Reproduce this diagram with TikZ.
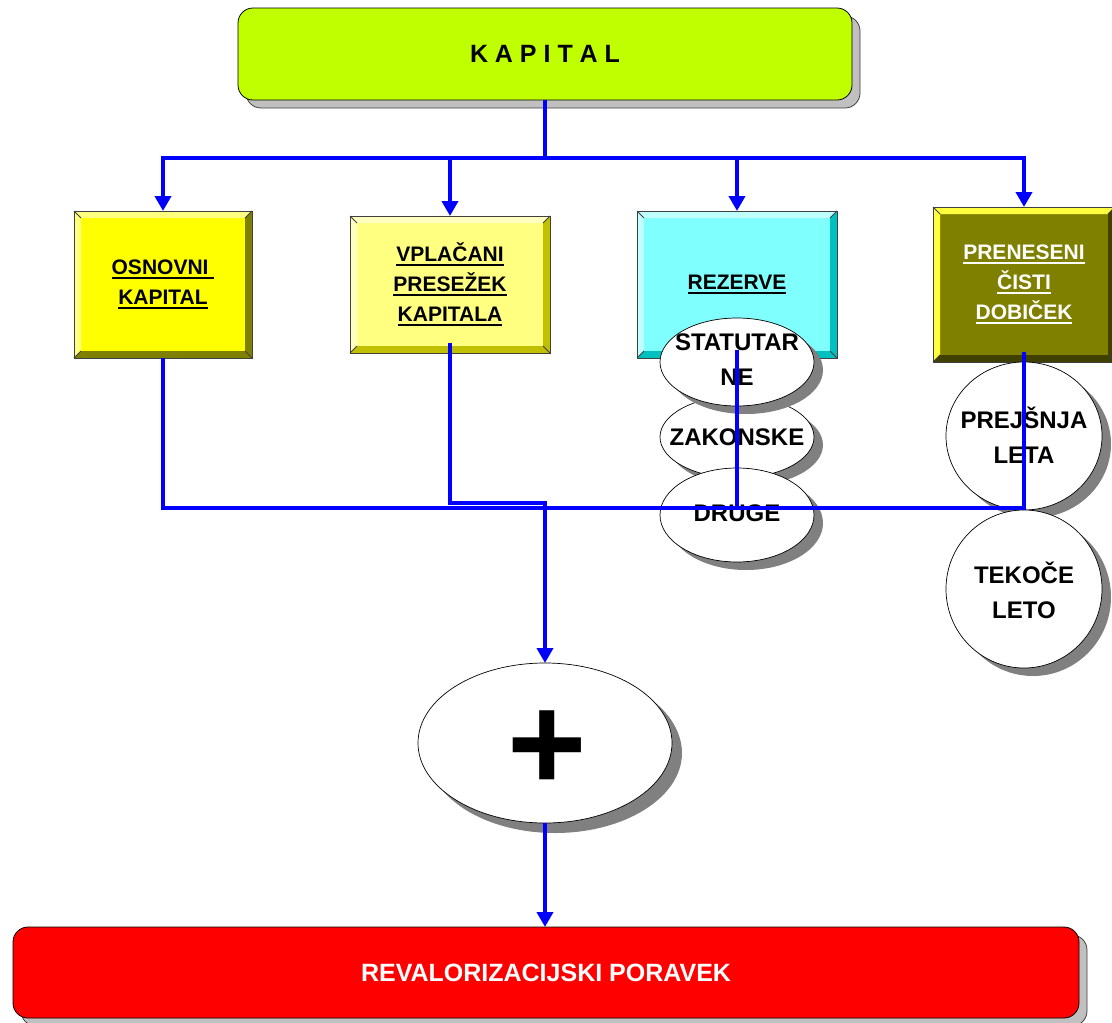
\documentclass[tikz,border=0pt]{standalone}
\usepackage{fontspec}
\setmainfont{Liberation Sans}
\usetikzlibrary{arrows.meta,shapes.geometric,shadows}

\definecolor{lime}{HTML}{C0FF00}
\definecolor{slabside}{HTML}{C0C0C0}
\definecolor{edgegrey}{HTML}{404040}
\definecolor{shgrey}{HTML}{808080}
\definecolor{ylface}{HTML}{FFFF00}
\definecolor{yllight}{HTML}{FFFF80}
\definecolor{yldark}{HTML}{808000}
\definecolor{pyface}{HTML}{FFFF80}
\definecolor{pylight}{HTML}{FFFFC0}
\definecolor{pydark}{HTML}{C0C000}
\definecolor{cyface}{HTML}{80FFFF}
\definecolor{cylight}{HTML}{C0FFFF}
\definecolor{cydark}{HTML}{00C0C0}
\definecolor{olface}{HTML}{808000}
\definecolor{ollight}{HTML}{FFFF40}
\definecolor{oldark}{HTML}{404000}
\definecolor{linkblue}{HTML}{0000FF}

% thick underline that follows the current text colour
\newcommand\uln[1]{\setbox0\hbox{#1}\rlap{\rule[-4.5pt]{\wd0}{2pt}}\box0}

% bevelled frame around a rectangular node: #1 node, #2 light side, #3 dark side
\newcommand\bevels[3]{%
  \fill[#2] (#1.north west) -- (#1.north east) -- ([shift={(-7,7)}]#1.north east) -- ([shift={(7,7)}]#1.north west) -- cycle;
  \fill[#2] (#1.north west) -- ([shift={(7,7)}]#1.north west) -- ([shift={(7,-7)}]#1.south west) -- (#1.south west) -- cycle;
  \fill[#3] (#1.north east) -- (#1.south east) -- ([shift={(-7,-7)}]#1.south east) -- ([shift={(-7,7)}]#1.north east) -- cycle;
  \fill[#3] (#1.south west) -- ([shift={(7,-7)}]#1.south west) -- ([shift={(-7,-7)}]#1.south east) -- (#1.south east) -- cycle;
  \draw[edge] (#1.north west) -- ([shift={(7,7)}]#1.north west);
  \draw[edge] (#1.north east) -- ([shift={(-7,7)}]#1.north east);
  \draw[edge] (#1.south west) -- ([shift={(7,-7)}]#1.south west);
  \draw[edge] (#1.south east) -- ([shift={(-7,-7)}]#1.south east);
  \draw[edge] (#1.north west) rectangle (#1.south east);
}

\tikzset{
  edge/.style={draw=edgegrey, line width=0.8pt},
  slab/.style={rectangle, rounded corners=15pt, draw=black, line width=0.8pt,
    inner sep=0pt, outer sep=0pt,
    general shadow={shadow xshift=8pt, shadow yshift=-8pt, fill=slabside, draw=edgegrey, line width=0.8pt},
    font=\fontsize{25}{30}\selectfont\bfseries},
  panel/.style={rectangle, inner sep=0pt, outer sep=0pt, align=center,
    font=\fontsize{21}{30}\selectfont\bfseries},
  bubble/.style={ellipse, draw=black, line width=0.7pt, fill=white, inner sep=0pt, outer sep=0pt,
    drop shadow={shadow xshift=9pt, shadow yshift=-8pt, fill=shgrey, opacity=1}},
  bubbletext/.style={align=center, inner sep=0pt, font=\fontsize{24}{35}\selectfont\bfseries},
  link/.style={draw=linkblue, line width=4pt, line join=miter},
  linkarrow/.style={link, -{Triangle[width=16pt,length=15pt]}},
}

\begin{document}
\begin{tikzpicture}[x=1pt, y=-1pt]
\useasboundingbox (0,0) rectangle (1112,1023);

% top and bottom slabs
\node[slab, fill=lime, minimum width=614pt, minimum height=92pt] (kap) at (545,54) {K A P I T A L};
\node[slab, fill=red, text=white, minimum width=1066pt, minimum height=91pt] (rev) at (546,972.5) {REVALORIZACIJSKI PORAVEK};

% the four capital components
\node[panel, fill=ylface, minimum width=178pt, minimum height=147pt] (osn) at (163,284.5)
  {\uln{OSNOVNI }\\\uln{KAPITAL}};
\bevels{osn}{yllight}{yldark}
\node[panel, fill=pyface, minimum width=200pt, minimum height=137pt] (vpl) at (450,284.5)
  {\uln{VPLAČANI}\\\uln{PRESEŽEK}\\\uln{KAPITALA}};
\bevels{vpl}{pylight}{pydark}
\node[panel, fill=cyface, minimum width=200pt, minimum height=147pt] (rez) at (737,284.5)
  {\uln{REZERVE}};
\bevels{rez}{cylight}{cydark}
\node[panel, fill=olface, text=white, minimum width=182pt, minimum height=155pt] (pre) at (1024,284.5)
  {\uln{PRENESENI}\\\uln{ČISTI}\\\uln{DOBIČEK}};
\bevels{pre}{ollight}{oldark}

% kinds of reserves
\node[bubble, minimum width=154pt, minimum height=82pt] (zak) at (737,437) {};
\node[bubbletext] (zakT) at (zak.center) {ZAKONSKE};
\node[bubble, minimum width=154pt, minimum height=88pt] (stat) at (737,362) {};
\node[bubbletext] (statT) at (737,360) {STATUTAR\\NE};
\node[bubble, minimum width=154pt, minimum height=94pt] (dru) at (737,515) {};
\node[bubbletext] (druT) at (737,513) {DRUGE};

% retained earnings
\node[bubble, minimum width=156pt, minimum height=148pt] (prej) at (1024,436) {};
\node[bubbletext] (prejT) at (1024,435) {PREJŠNJA\\LETA};
\node[bubble, minimum width=156pt, minimum height=158pt] (tek) at (1024,589) {};
\node[bubbletext] (tekT) at (1024,590) {TEKOČE\\LETO};

% sum
\node[bubble, minimum width=254pt, minimum height=160pt, drop shadow={shadow xshift=10pt, shadow yshift=-10pt, fill=shgrey, opacity=1}] (plus) at (545,743) {};
\node[inner sep=0pt, font=\fontsize{136}{136}\selectfont\bfseries] (plusT) at (547,751) {+};

% distribution from KAPITAL
\draw[linkarrow] (kap.south) -- ++(0,58) -| (osn.north);
\draw[linkarrow] (kap.south) -- ++(0,58) -| (vpl.north);
\draw[linkarrow] (kap.south) -- ++(0,58) -| (rez.north);
\draw[linkarrow] (kap.south) -- ++(0,58) -| (pre.north);

% collection into the sum
\coordinate (bus) at (545,508);
\draw[link] (osn.south) |- (bus);
\draw[link] (vpl.south) ++(0,-10) -- ++(0,160) -| (bus);
\draw[link] (rez.south) ++(0,-8) |- (bus);
\draw[link] (pre.south) ++(0,-10) |- (bus);
\draw[linkarrow] (bus) -- (plus.north);
\draw[linkarrow] (plus.south) -- (plus.south |- rev.north);
\end{tikzpicture}
\end{document}
